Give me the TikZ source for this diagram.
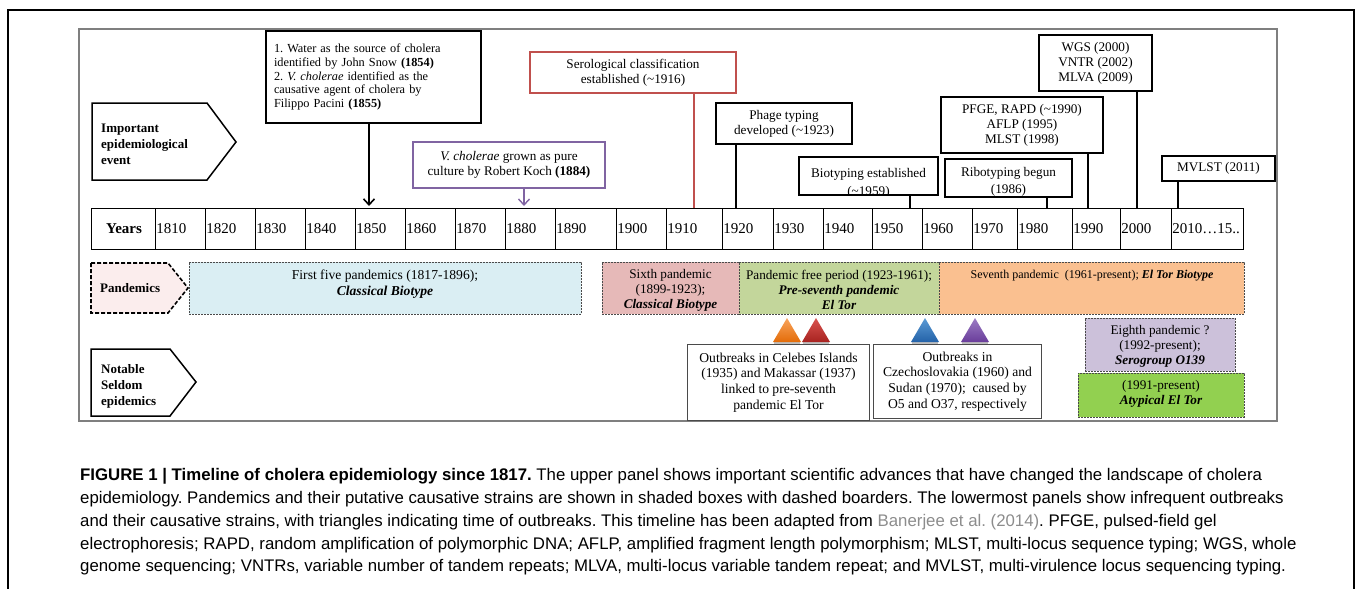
\documentclass[tikz,border=0pt]{standalone}
\usepackage{fontspec}
\setmainfont{Liberation Serif}
\newfontfamily\captionsans{Liberation Sans}
\usepackage{tikz}
\usetikzlibrary{arrows.meta,positioning,calc}
\frenchspacing
\definecolor{framegray}{HTML}{7F7F7F}
\definecolor{rulegray}{HTML}{4A4A4A}
\definecolor{kochpurple}{HTML}{8064A2}
\definecolor{serored}{HTML}{C0504D}
\definecolor{firstfive}{HTML}{DAEEF3}
\definecolor{sixthpink}{HTML}{E6B9B8}
\definecolor{pregreen}{HTML}{C3D69B}
\definecolor{seventhorange}{HTML}{FAC090}
\definecolor{eighthlilac}{HTML}{CCC1DA}
\definecolor{atypgreen}{HTML}{92D050}
\definecolor{tagpink}{HTML}{FBEDED}
\definecolor{linkgray}{HTML}{8C8C8C}
\definecolor{triorangetop}{HTML}{F9A45C}
\definecolor{triorangebot}{HTML}{E36C09}
\definecolor{triredtop}{HTML}{D9534F}
\definecolor{triredbot}{HTML}{A82320}
\definecolor{tribluetop}{HTML}{5B9BD5}
\definecolor{tribluebot}{HTML}{2462A8}
\definecolor{tripurptop}{HTML}{9B7CC4}
\definecolor{tripurpbot}{HTML}{6A3D9A}
\newcommand{\boxfont}{\fontsize{13.2}{15}\selectfont}
\newcommand{\notefont}{\fontsize{13.6}{15.6}\selectfont}
\newcommand{\yearfont}{\fontsize{15}{17}\selectfont}
\newcommand{\tagfont}{\fontsize{13}{16}\selectfont\bfseries}
\newcommand{\capsize}{\fontsize{16.8}{22.8}\selectfont}

\begin{document}
\begin{tikzpicture}[x=1pt,y=-1pt,
  evbox/.style={draw,line width=1.6pt,fill=white,inner sep=0pt,align=center,font=\boxfont},
  evline/.style={line width=1.8pt},
  pandbox/.style={draw=rulegray,dash pattern=on 2pt off 1pt,line width=0.8pt,inner sep=0pt},
  boxtext/.style={inner sep=0pt,align=center,font=\boxfont},
  notebox/.style={draw=rulegray,line width=1pt,fill=white,inner sep=0pt,align=center,font=\notefont},
  yearlab/.style={anchor=west,inner sep=1.2pt,font=\yearfont},
  tagtext/.style={anchor=west,align=left,inner sep=0pt,font=\tagfont},
  capline/.style={anchor=base west,inner sep=0pt,font=\captionsans\capsize}]
  \useasboundingbox (0,0) rectangle (1358,589);

  % Outer frame of the figure and the grey panel.
  \draw[line width=2pt] (8,600) -- (8,10) -- (1354,10) -- (1354,600);
  \draw[framegray,line width=1.2pt] (79,29) rectangle (1277,421);

  % Row labels.
  \draw[line width=1.5pt] (92,103) -- (207,103) -- (236,142) -- (207,180) -- (92,180) -- cycle;
  \node[tagtext] (eventtag) at (101,144) {Important\\epidemiological\\event};
  \draw[fill=tagpink,line width=1.6pt,dash pattern=on 4pt off 2pt]
    (91,263) -- (168,263) -- (188,288) -- (168,313) -- (91,313) -- cycle;
  \node[tagtext] (pandtag) at (100,288) {Pandemics};
  \draw[line width=1.5pt] (91,349) -- (170,349) -- (196,382) -- (170,416) -- (91,416) -- cycle;
  \node[tagtext] (notetag) at (101,386) {Notable\\Seldom\\epidemics};

  % Years row.
  \node[draw,line width=0.9pt,minimum width=1152,minimum height=41,inner sep=0pt,anchor=north west]
    (yrs) at (91,208) {};
  \node[font=\yearfont\bfseries,inner sep=0pt] (yrstxt) at (124,229) {Years};
  \foreach \xc/\yr [count=\i] in {155/1810,205/1820,255/1830,305/1840,355/1850,405/1860,
      455/1870,505/1880,555/1890,616/1900,666/1910,722/1920,773/1930,823/1940,872/1950,
      922/1960,972/1970,1017/1980,1072/1990,1120/2000,1171/{2010\ldots15..}}{
    \draw[line width=0.9pt] (\xc,0 |- yrs.north) -- (\xc,0 |- yrs.south);
    \node[yearlab] (yr\i) at (\xc,229) {\yr};
  }

  % Scientific advances above the timeline.
  \node[evbox,minimum width=215,minimum height=92,text width=199,align=left,
    font=\fontsize{12.3}{13.6}\selectfont] (snow) at (373.5,77)
    {1. Water as the source of cholera\\identified by John Snow \textbf{(1854)}\\
     2. \textit{V. cholerae} identified as the\\causative agent of cholera by\\
     Filippo Pacini \textbf{(1855)}};
  \node[evbox,draw=kochpurple,line width=1.4pt,minimum width=192,minimum height=46]
    (koch) at (509,165) {\textit{V. cholerae} grown as pure\\culture by Robert Koch \textbf{(1884)}};
  \node[evbox,draw=serored,line width=1.4pt,minimum width=206,minimum height=41]
    (sero) at (633,72.5) {Serological classification\\established (\textasciitilde1916)};
  \node[evbox,minimum width=136,minimum height=41] (phage) at (784,123.5)
    {Phage typing\\developed (\textasciitilde1923)};
  \node[evbox,minimum width=127,minimum height=38] (ribo) at (1008.5,178) {};
  \node[boxtext,font=\fontsize{13.2}{17}\selectfont] (ribotxt) at (1008.5,182)
    {Ribotyping begun\\(1986)};
  \node[evbox,minimum width=162,minimum height=56] (pfge) at (1022,125)
    {PFGE, RAPD (\textasciitilde1990)\\AFLP (1995)\\MLST (1998)};
  \node[evbox,minimum width=113,minimum height=56] (wgs) at (1095.5,63)
    {WGS (2000)\\VNTR (2002)\\MLVA (2009)};
  \node[evbox,minimum width=113,minimum height=25] (mvlst) at (1218.5,168.5) {MVLST (2011)};
  % Second line of the biotyping note runs under the frame, as printed.
  \node[evbox,draw=none,minimum width=137,minimum height=36] (bio) at (868.5,176) {};
  \begin{scope}
    \clip (801,159) rectangle (936,193);
    \node[boxtext,font=\fontsize{13.2}{18}\selectfont] (biotxt) at (868.5,183.5)
      {Biotyping established\\(\textasciitilde1959)};
  \end{scope}
  \draw[line width=1.6pt] (bio.north west) rectangle (bio.south east);

  \coordinate (t1854) at (369,206);
  \coordinate (t1884) at (524,206);
  \coordinate (t1916) at (694,208);
  \coordinate (t1923) at (736,208);
  \coordinate (t1959) at (910,208);
  \coordinate (t1986) at (1047,208);
  \coordinate (t1990) at (1088,208);
  \coordinate (t2000) at (1137,208);
  \coordinate (t2011) at (1178,208);
  \draw[evline,-{Straight Barb[length=6pt,width=11pt,line width=1.6pt]}] (snow.south -| t1854) -- (t1854);
  \draw[evline,kochpurple,line width=1.4pt,-{Straight Barb[length=6pt,width=11pt,line width=1.4pt]}]
    (koch.south -| t1884) -- (t1884);
  \draw[serored,line width=1.4pt] (sero.south -| t1916) -- (t1916);
  \draw[evline] (phage.south -| t1923) -- (t1923);
  \draw[evline] (bio.south -| t1959) -- (t1959);
  \draw[evline] (ribo.south -| t1986) -- (t1986);
  \draw[evline] (pfge.south -| t1990) -- (t1990);
  \draw[evline] (wgs.south -| t2000) -- (t2000);
  \draw[evline] (mvlst.south -| t2011) -- (t2011);

  % Pandemic periods.
  \node[pandbox,fill=firstfive,minimum width=392,minimum height=52,anchor=north west]
    (five) at (189,262) {};
  \node[boxtext,anchor=north,font=\notefont] (fivetxt) at (385,270)
    {First five pandemics (1817-1896);\\\textbf{\textit{Classical Biotype}}};
  \node[pandbox,fill=sixthpink,minimum width=137,minimum height=52,anchor=north west]
    (sixth) at (602,262) {};
  \node[boxtext] (sixthtxt) at (670.5,290)
    {Sixth pandemic\\(1899-1923);\\\textbf{\textit{Classical Biotype}}};
  \node[pandbox,fill=pregreen,minimum width=200,minimum height=52,anchor=north west]
    (pre) at (739,262) {};
  \node[boxtext] (pretxt) at (839,290)
    {Pandemic free period (1923-1961);\\\textbf{\textit{Pre-seventh pandemic}}\\\textbf{\textit{El Tor}}};
  \node[pandbox,fill=seventhorange,minimum width=305,minimum height=52,anchor=north west]
    (seventh) at (939,262) {};
  \node[boxtext,anchor=north,font=\fontsize{12}{15}\selectfont] (seventhtxt) at (1092,270)
    {Seventh pandemic\ \ (1961-present); \textbf{\textit{El Tor Biotype}}};
  \node[pandbox,fill=eighthlilac,minimum width=150,minimum height=53,anchor=north west]
    (eighth) at (1085,318) {};
  \node[boxtext] (eighthtxt) at (1160,346.5)
    {Eighth pandemic ?\\(1992-present);\\\textbf{\textit{Serogroup O139}}};
  \node[pandbox,fill=atypgreen,minimum width=166,minimum height=44,anchor=north west]
    (atyp) at (1078,373) {};
  \node[boxtext] (atyptxt) at (1161,394)
    {(1991-present)\\\textbf{\textit{Atypical El Tor}}};

  % Outbreak markers and notes.
  \foreach \cx/\tc/\bc in {787/triorangetop/triorangebot,816/triredtop/triredbot,
      925/tribluetop/tribluebot,975/tripurptop/tripurpbot}{
    \fill[black!25] (\cx-13,342) rectangle (\cx+13,344.5);
    \shade[top color=\tc,bottom color=\bc] (\cx,318) -- (\cx+14,342) -- (\cx-14,342) -- cycle;
  }
  \node[notebox,minimum width=182,minimum height=76,anchor=north west] (celebes) at (687,344)
    {Outbreaks in Celebes Islands\\(1935) and Makassar (1937)\\linked to pre-seventh\\pandemic El Tor};
  \node[notebox,minimum width=168,minimum height=74,anchor=north west] (czech) at (873,344)
    {Outbreaks in\\Czechoslovakia (1960) and\\Sudan (1970);\ \ caused by\\O5 and O37, respectively};

  % Caption.
  \node[capline] (cap1) at (80,480) {\textbf{FIGURE 1 | Timeline of cholera epidemiology since 1817.} The upper panel shows important scientific advances that have changed the landscape of cholera};
  \node[capline] (cap2) at (80,503) {epidemiology. Pandemics and their putative causative strains are shown in shaded boxes with dashed boarders. The lowermost panels show infrequent outbreaks};
  \node[capline] (cap3) at (80,526) {and their causative strains, with triangles indicating time of outbreaks. This timeline has been adapted from \textcolor{linkgray}{Banerjee et al. (2014)}. PFGE, pulsed-field gel};
  \node[capline] (cap4) at (80,549) {electrophoresis; RAPD, random amplification of polymorphic DNA; AFLP, amplified fragment length polymorphism; MLST, multi-locus sequence typing; WGS, whole};
  \node[capline] (cap5) at (80,571) {genome sequencing; VNTRs, variable number of tandem repeats; MLVA, multi-locus variable tandem repeat; and MVLST, multi-virulence locus sequencing typing.};
\end{tikzpicture}
\end{document}
